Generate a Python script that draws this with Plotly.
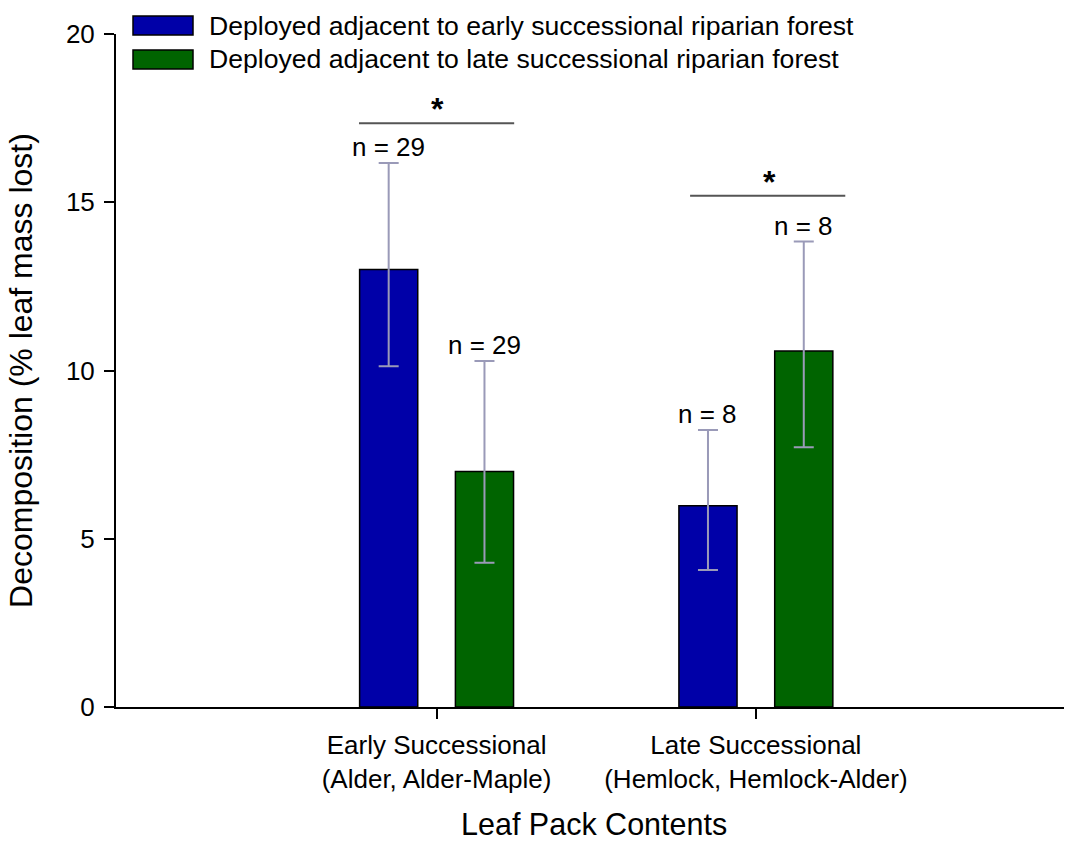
import plotly.graph_objects as go

# ---------------- data ----------------
categories = ["Early Successional<br>(Alder, Alder-Maple)",
              "Late Successional<br>(Hemlock, Hemlock-Alder)"]
series_names = ["Deployed adjacent to early successional riparian forest",
                "Deployed adjacent to late successional riparian forest"]

early_forest_mean = [13.0, 5.98]
early_forest_upper = [16.17, 8.23]
early_forest_lower = [10.13, 4.07]
early_forest_n = [29, 8]

late_forest_mean = [7.0, 10.58]
late_forest_upper = [10.28, 13.83]
late_forest_lower = [4.29, 7.72]
late_forest_n = [29, 8]

y_ticks = [0, 5, 10, 15, 20]
x_title = "Leaf Pack Contents"
y_title = "Decomposition (% leaf mass lost)"

# ---------------- styles ----------------
FONT = "Liberation Sans, Arial, sans-serif"
BLUE = "#0000A8"
GREEN = "#006400"
ERR = "#9a9ab8"
OFFSET = 0.15
W, H = 1065, 844
ML, MR, MT, MB = 116, 1, 34, 137
PW, PH = W - ML - MR, H - MT - MB

x_idx = list(range(len(categories)))

def err_plus(mean, upper):
    return [u - m for m, u in zip(mean, upper)]

def err_minus(mean, lower):
    return [m - l for m, l in zip(mean, lower)]

fig = go.Figure()
for name, mean, up, lo, col in [
    (series_names[0], early_forest_mean, early_forest_upper, early_forest_lower, BLUE),
    (series_names[1], late_forest_mean, late_forest_upper, late_forest_lower, GREEN),
]:
    fig.add_trace(go.Bar(
        x=x_idx, y=mean, name=name,
        marker=dict(color=col, line=dict(color="black", width=1.5)),
        error_y=dict(type="data", symmetric=False,
                     array=err_plus(mean, up), arrayminus=err_minus(mean, lo),
                     color=ERR, thickness=2, width=10),
        showlegend=False,
    ))

def px_x(px):
    return (px - ML) / PW

def px_y(py):
    return 1 - (py - MT) / PH

annotations = []
# n labels
for off, upper, ns in [(-OFFSET, early_forest_upper, early_forest_n),
                       (OFFSET, late_forest_upper, late_forest_n)]:
    for i, (u, n) in enumerate(zip(upper, ns)):
        annotations.append(dict(x=i + off, y=u, xref="x", yref="y",
                                text=f"n = {n}", showarrow=False,
                                yanchor="bottom", xanchor="center", yshift=-1,
                                font=dict(family=FONT, size=26, color="black")))

shapes = []
# significance markers
sig = [(-0.243, 0.243, 17.35, 0.004, 17.35), (0.794, 1.28, 15.19, 1.042, 15.19)]
for x0, x1, y, xs, ys in sig:
    shapes.append(dict(type="line", xref="x", yref="y", x0=x0, x1=x1, y0=y, y1=y,
                       line=dict(color="#555555", width=2)))
    annotations.append(dict(x=xs, y=ys, xref="x", yref="y", text="<b>*</b>",
                            showarrow=False, yanchor="bottom", yshift=-6,
                            font=dict(family=FONT, size=32, color="black")))

# manual legend
for (top, bot), col, name in [((16, 35), BLUE, series_names[0]),
                              ((50, 69), GREEN, series_names[1])]:
    shapes.append(dict(type="rect", xref="paper", yref="paper",
                       x0=px_x(133), x1=px_x(193), y0=px_y(bot), y1=px_y(top),
                       fillcolor=col, line=dict(color="black", width=1.5)))
    annotations.append(dict(x=px_x(207), y=px_y((top + bot) / 2), xref="paper", yref="paper",
                            text=name, showarrow=False, xanchor="left", yanchor="middle",
                            font=dict(family=FONT, size=26.6, color="black")))

# x-axis title
annotations.append(dict(x=px_x(594), y=px_y(843), xref="paper", yref="paper",
                        text=x_title, showarrow=False, xanchor="center", yanchor="bottom",
                        font=dict(family=FONT, size=30.5, color="black")))

fig.update_layout(
    width=W, height=H,
    margin=dict(l=ML, r=MR, t=MT, b=MB),
    paper_bgcolor="white", plot_bgcolor="white",
    barmode="group", bargap=0.4, bargroupgap=0.393,
    font=dict(family=FONT, color="black"),
    annotations=annotations, shapes=shapes,
    xaxis=dict(range=[-1.004, 1.965], tickvals=x_idx, ticktext=categories,
               ticks="outside", ticklen=10, tickwidth=2, tickcolor="black",
               showline=True, linecolor="black", linewidth=2,
               showgrid=False, zeroline=False, ticklabelstandoff=4,
               automargin=False,
               tickfont=dict(family=FONT, size=26, color="black")),
    yaxis=dict(range=[0, 20], tickvals=y_ticks,
               ticks="outside", ticklen=10, tickwidth=2, tickcolor="black",
               showline=True, linecolor="black", linewidth=2,
               showgrid=False, zeroline=False, ticklabelstandoff=4,
               tickfont=dict(family=FONT, size=26, color="black"),
               title=dict(text=y_title, standoff=24,
                          font=dict(family=FONT, size=32, color="black"))),
)

fig.write_html("out.html", config={"displayModeBar": False},
               post_script="document.body.style.margin='0';")
